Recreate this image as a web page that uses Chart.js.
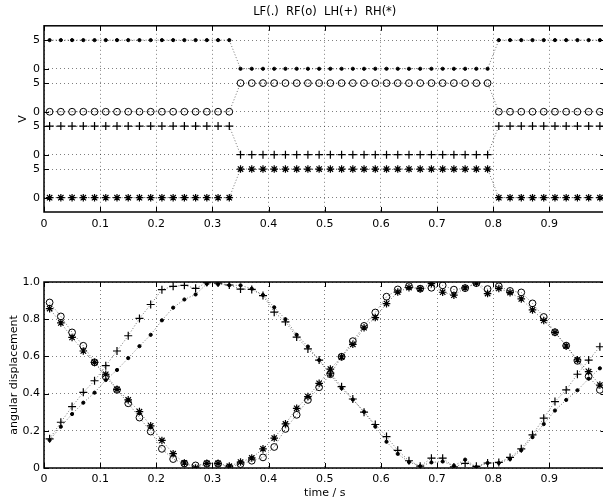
<!DOCTYPE html>
<html>
<head>
<meta charset="utf-8">
<script src="https://cdn.jsdelivr.net/npm/chart.js@4.4.1/dist/chart.umd.min.js"></script>
<style>
    html, body { margin: 0; padding: 0; background: #fff; overflow: hidden; }
    .plot-box { position: absolute; left: 0; width: 620px; height: 250px; }
    #contact-box { top: 0; }
    #angle-box { top: 250px; }
</style>
</head>
<body>
<div class="plot-box" id="contact-box"><canvas id="contact-canvas"></canvas></div>
<div class="plot-box" id="angle-box"><canvas id="angle-canvas"></canvas></div>
<script>
// ========== Data
let timeList = [0.01, 0.03, 0.05, 0.07, 0.09, 0.11, 0.13, 0.15, 0.17, 0.19,
    0.21, 0.23, 0.25, 0.27, 0.29, 0.31, 0.33, 0.35, 0.37, 0.39,
    0.41, 0.43, 0.45, 0.47, 0.49, 0.51, 0.53, 0.55, 0.57, 0.59,
    0.61, 0.63, 0.65, 0.67, 0.69, 0.71, 0.73, 0.75, 0.77, 0.79,
    0.81, 0.83, 0.85, 0.87, 0.89, 0.91, 0.93, 0.95, 0.97, 0.99];

// foot contact signal (V)
let lfContact = [5, 5, 5, 5, 5, 5, 5, 5, 5, 5, 5, 5, 5, 5, 5, 5, 5,
    0, 0, 0, 0, 0, 0, 0, 0, 0, 0, 0, 0, 0, 0, 0, 0, 0, 0, 0, 0, 0, 0, 0,
    5, 5, 5, 5, 5, 5, 5, 5, 5, 5];
let rfContact = [0, 0, 0, 0, 0, 0, 0, 0, 0, 0, 0, 0, 0, 0, 0, 0, 0,
    5, 5, 5, 5, 5, 5, 5, 5, 5, 5, 5, 5, 5, 5, 5, 5, 5, 5, 5, 5, 5, 5, 5,
    0, 0, 0, 0, 0, 0, 0, 0, 0, 0];
let lhContact = [5, 5, 5, 5, 5, 5, 5, 5, 5, 5, 5, 5, 5, 5, 5, 5, 5,
    0, 0, 0, 0, 0, 0, 0, 0, 0, 0, 0, 0, 0, 0, 0, 0, 0, 0, 0, 0, 0, 0, 0,
    5, 5, 5, 5, 5, 5, 5, 5, 5, 5];
let rhContact = [0, 0, 0, 0, 0, 0, 0, 0, 0, 0, 0, 0, 0, 0, 0, 0, 0,
    5, 5, 5, 5, 5, 5, 5, 5, 5, 5, 5, 5, 5, 5, 5, 5, 5, 5, 5, 5, 5, 5, 5,
    0, 0, 0, 0, 0, 0, 0, 0, 0, 0];

// angular displacement
let lfAngle = [0.15, 0.222, 0.29, 0.351, 0.405, 0.473, 0.527, 0.591, 0.655, 0.716,
    0.794, 0.862, 0.906, 0.933, 0.99, 0.988, 0.983, 0.982, 0.964, 0.93,
    0.864, 0.8, 0.716, 0.653, 0.58, 0.5, 0.429, 0.368, 0.302, 0.223,
    0.141, 0.076, 0.032, 0.01, 0.03, 0.035, 0.012, 0.045, 0.005, 0.027,
    0.027, 0.048, 0.096, 0.166, 0.236, 0.309, 0.366, 0.418, 0.48, 0.536];
let rfAngle = [0.89, 0.815, 0.729, 0.657, 0.568, 0.491, 0.42, 0.348, 0.271, 0.196,
    0.103, 0.048, 0.024, 0.014, 0.023, 0.023, 0.003, 0.021, 0.039, 0.057,
    0.113, 0.21, 0.286, 0.366, 0.434, 0.504, 0.598, 0.682, 0.764, 0.836,
    0.921, 0.96, 0.978, 0.964, 0.969, 0.982, 0.959, 0.967, 0.994, 0.962,
    0.977, 0.952, 0.944, 0.885, 0.812, 0.73, 0.658, 0.576, 0.493, 0.42];
let lhAngle = [0.157, 0.246, 0.33, 0.407, 0.469, 0.55, 0.629, 0.711, 0.804, 0.879,
    0.959, 0.977, 0.982, 0.966, 0.997, 0.994, 0.984, 0.962, 0.96, 0.927,
    0.838, 0.786, 0.704, 0.64, 0.58, 0.51, 0.437, 0.371, 0.3, 0.234,
    0.169, 0.095, 0.039, 0.01, 0.053, 0.053, 0.006, 0.025, 0.009, 0.027,
    0.03, 0.057, 0.103, 0.178, 0.268, 0.357, 0.42, 0.504, 0.58, 0.652];
let rhAngle = [0.857, 0.78, 0.702, 0.629, 0.568, 0.504, 0.423, 0.366, 0.303, 0.227,
    0.148, 0.077, 0.027, 0.0, 0.025, 0.025, 0.01, 0.032, 0.054, 0.103,
    0.161, 0.237, 0.321, 0.384, 0.455, 0.532, 0.598, 0.665, 0.754, 0.809,
    0.884, 0.946, 0.97, 0.964, 0.991, 0.945, 0.929, 0.968, 0.994, 0.938,
    0.965, 0.943, 0.909, 0.85, 0.793, 0.729, 0.656, 0.582, 0.518, 0.446];

// tick labels for the stacked contact traces
let contactTickLabels = ['0', '5', '0', '5', '0', '5', '0', '5'];

// ========== Styles
let inkColor = '#000';
let gridColor = 'rgba(0,0,0,0.5)';
let traceColor = 'rgba(0,0,0,0.55)';
Chart.defaults.font.family = "'DejaVu Sans', sans-serif";
Chart.defaults.font.size = 11;
Chart.defaults.color = inkColor;

// marker per leg: LF(.) RF(o) LH(+) RH(*)
let legMarkers = [
    { pointStyle: 'circle', pointRadius: 1.6, pointBackgroundColor: inkColor, pointBorderWidth: 1 },
    { pointStyle: 'circle', pointRadius: 3.4, pointBackgroundColor: 'transparent', pointBorderWidth: 1 },
    { pointStyle: 'cross', pointRadius: 4, pointBackgroundColor: 'transparent', pointBorderWidth: 1.2 },
    { pointStyle: 'star', pointRadius: 3.8, pointBackgroundColor: 'transparent', pointBorderWidth: 1.2 }
];

// box round the axes with ticks pointing inwards
let matlabBox = {
    id: 'matlabBox',
    afterDraw(chart) {
        let ctx = chart.ctx;
        let a = chart.chartArea;
        let xs = chart.scales.x;
        let ys = chart.scales.y;
        ctx.save();
        ctx.strokeStyle = inkColor;
        ctx.lineWidth = 1;
        ctx.beginPath();
        xs.ticks.forEach(function (t) {
            let px = Math.round(xs.getPixelForValue(t.value)) + 0.5;
            ctx.moveTo(px, a.bottom); ctx.lineTo(px, a.bottom - 5);
            ctx.moveTo(px, a.top); ctx.lineTo(px, a.top + 5);
        });
        ys.ticks.forEach(function (t) {
            let py = Math.round(ys.getPixelForValue(t.value)) + 0.5;
            ctx.moveTo(a.left, py); ctx.lineTo(a.left + 5, py);
            ctx.moveTo(a.right, py); ctx.lineTo(a.right - 5, py);
        });
        ctx.stroke();
        ctx.lineWidth = 1.5;
        ctx.strokeRect(a.left, a.top, a.right - a.left, a.bottom - a.top);
        ctx.restore();
    }
};

function makeDataset(values, marker, shift) {
    return Object.assign({
        data: timeList.map(function (t, i) { return { x: t, y: values[i] + shift }; }),
        showLine: true,
        borderColor: traceColor,
        borderWidth: 1,
        borderDash: [1, 2],
        tension: 0,
        pointBorderColor: inkColor
    }, marker);
}

function timeScale(axisHeight, labelPad, title) {
    return {
        type: 'linear',
        min: 0,
        max: 1,
        grid: { color: gridColor, lineWidth: 1, drawTicks: false },
        border: { display: false, dash: [1, 3] },
        ticks: {
            stepSize: 0.1,
            autoSkip: false,
            maxRotation: 0,
            padding: labelPad,
            callback: function (v) { return v >= 0.999 ? '' : String(Math.round(v * 10) / 10); }
        },
        title: title,
        afterFit: function (scale) { scale.height = axisHeight; }
    };
}

// @ ========== Foot contact
function renderContactChart() {
    let offsets = [22.5, 15, 7.5, 0];
    let series = [lfContact, rfContact, lhContact, rhContact];
    let canvas = document.getElementById('contact-canvas');
    return new Chart(canvas, {
        type: 'line',
        data: { datasets: series.map(function (s, i) { return makeDataset(s, legMarkers[i], offsets[i]); }) },
        plugins: [matlabBox],
        options: {
            responsive: true,
            maintainAspectRatio: false,
            animation: false,
            events: [],
            layout: { padding: { left: 0, right: 14.5, top: 0, bottom: 0 } },
            plugins: {
                legend: { display: false },
                tooltip: { enabled: false },
                title: {
                    display: true,
                    text: 'LF(.)  RF(o)  LH(+)  RH(*)',
                    fullSize: false,
                    color: inkColor,
                    font: { size: 11.5, weight: 'normal' },
                    padding: { top: 5.5, bottom: 6.5 }
                }
            },
            scales: {
                x: timeScale(38, 6, { display: false }),
                y: {
                    type: 'linear',
                    min: -2.5,
                    max: 30,
                    grid: { color: gridColor, lineWidth: 1, drawTicks: false },
                    border: { display: false, dash: [1, 3] },
                    afterBuildTicks: function (scale) {
                        scale.ticks = [0, 5, 7.5, 12.5, 15, 20, 22.5, 27.5].map(function (v) { return { value: v }; });
                    },
                    ticks: {
                        autoSkip: false,
                        padding: 4,
                        callback: function (v, i) { return contactTickLabels[i]; }
                    },
                    title: { display: true, text: 'V', padding: { top: 17, bottom: 0 } },
                    afterFit: function (scale) { scale.width = 44; }
                }
            }
        }
    });
}

// @ ========== Angular displacement
function renderAngleChart() {
    let series = [lfAngle, rfAngle, lhAngle, rhAngle];
    let canvas = document.getElementById('angle-canvas');
    return new Chart(canvas, {
        type: 'line',
        data: { datasets: series.map(function (s, i) { return makeDataset(s, legMarkers[i], 0); }) },
        plugins: [matlabBox],
        options: {
            responsive: true,
            maintainAspectRatio: false,
            animation: false,
            events: [],
            layout: { padding: { left: 0, right: 14.5, top: 32, bottom: 0 } },
            plugins: {
                legend: { display: false },
                tooltip: { enabled: false }
            },
            scales: {
                x: timeScale(32, 4.5, { display: true, text: 'time / s', padding: { top: 0, bottom: 0 } }),
                y: {
                    type: 'linear',
                    min: 0,
                    max: 1,
                    grid: { color: gridColor, lineWidth: 1, drawTicks: false },
                    border: { display: false, dash: [1, 3] },
                    ticks: { stepSize: 0.2, autoSkip: false, padding: 4 },
                    title: { display: true, text: 'angular displacement', padding: { top: 7.4, bottom: 0 } },
                    afterFit: function (scale) { scale.width = 44; }
                }
            }
        }
    });
}

renderContactChart();
renderAngleChart();
</script>
</body>
</html>
